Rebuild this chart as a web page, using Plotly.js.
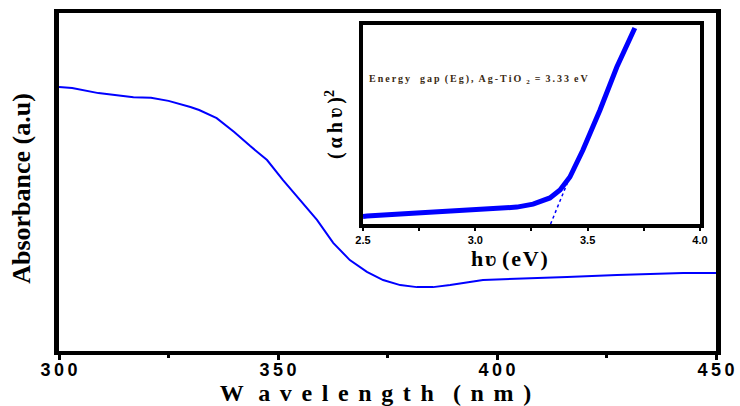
<!DOCTYPE html>
<html>
<head>
<meta charset="utf-8">
<script src="https://cdn.plot.ly/plotly-3.0.1.min.js"></script>
<style>html,body{margin:0;padding:0;background:#fff;}#chart{width:740px;height:406px;}</style>
</head>
<body>
<div id="chart"></div>
<script>
// Main spectrum: wavelength (nm) vs absorbance (a.u.)
const wavelength = [300, 303, 309, 317, 321, 325, 330, 332, 336, 340, 343.6, 347.5, 351.1, 355, 358.9, 362.6, 366.4, 370.3, 374, 377.9, 381.7, 385.4, 389.3, 396.8, 404.6, 416, 427.4, 442.5, 450];
const absorbance = [0.781, 0.778, 0.763, 0.751, 0.749, 0.740, 0.722, 0.713, 0.689, 0.648, 0.607, 0.565, 0.506, 0.447, 0.388, 0.320, 0.269, 0.234, 0.210, 0.195, 0.189, 0.189, 0.195, 0.210, 0.213, 0.219, 0.225, 0.231, 0.231];

// Inset: Tauc plot
const photonEnergy = [2.50, 2.518, 2.74, 2.99, 3.185, 3.257, 3.332, 3.377, 3.421, 3.479, 3.555, 3.63, 3.71];
const taucValue = [0.038, 0.040, 0.055, 0.075, 0.085, 0.100, 0.131, 0.171, 0.236, 0.372, 0.573, 0.789, 0.985];
const tangentX = [3.335, 3.42];
const tangentY = [0.0, 0.235];

const mainTickVals = [300, 350, 400, 450];
const mainTickText = ['3\u20090\u20090', '3\u20095\u20090', '4\u20090\u20090', '4\u20095\u20090'];
const mainMinorVals = [325, 375, 425];
const insetTickVals = [2.5, 3.0, 3.5, 4.0];
const insetTickText = ['2.5', '3.0', '3.5', '4.0'];
const insetMinorVals = [2.75, 3.25, 3.75];

const blue = '#0000ff';
const serif = 'Liberation Serif, Times New Roman, serif';
const sans = 'Liberation Sans, Arial, sans-serif';
const NB = '\u00a0';
const EN = '\u2002';
const ZW = '\u200b';

function spaced(s, sep) { return s.split('').join(sep); }

const traces = [
  {x: wavelength, y: absorbance, type: 'scatter', mode: 'lines', line: {color: blue, width: 2}, xaxis: 'x', yaxis: 'y', hoverinfo: 'skip'},
  {x: photonEnergy, y: taucValue, type: 'scatter', mode: 'lines', line: {color: blue, width: 5}, xaxis: 'x2', yaxis: 'y2', hoverinfo: 'skip'},
  {x: tangentX, y: tangentY, type: 'scatter', mode: 'lines', line: {color: blue, width: 1.5, dash: 'dot'}, xaxis: 'x2', yaxis: 'y2', hoverinfo: 'skip'}
];

const layout = {
  width: 740, height: 406,
  margin: {l: 59, r: 24, t: 13, b: 55},
  paper_bgcolor: '#fff', plot_bgcolor: '#fff',
  showlegend: false,
  xaxis: {
    domain: [0, 1], range: [300, 450], anchor: 'y',
    tickmode: 'array', tickvals: mainTickVals, ticktext: mainTickText,
    ticks: 'outside', ticklen: 5, tickwidth: 3, tickcolor: '#000',
    minor: {tickmode: 'array', tickvals: mainMinorVals, ticks: 'outside', ticklen: 3, tickwidth: 3, tickcolor: '#000'},
    showline: true, linewidth: 4, linecolor: '#000', mirror: true,
    showgrid: false, zeroline: false,
    ticklabelstandoff: -6,
    tickfont: {family: sans, size: 18, color: '#000', weight: 'bold'},
    title: {text: 'W\u2009\u2009\u2009' + spaced('avelength', '\u2009\u2009') + '\u2009\u2009\u2009\u2009' + spaced('(nm)', '\u2009\u2009') + '\u2003' + ZW, font: {family: serif, size: 24, color: '#000', weight: 'bold'}, standoff: 4}
  },
  yaxis: {
    domain: [0, 1], range: [0, 1], anchor: 'x',
    showticklabels: false, ticks: '',
    showline: true, linewidth: 5, linecolor: '#000', mirror: true,
    showgrid: false, zeroline: false,
    title: {text: 'Absorbance (a.u)' + NB + NB + ZW, font: {family: serif, size: 26, color: '#000', weight: 'bold'}, standoff: 17}
  },
  xaxis2: {
    domain: [0.4627, 0.9756], range: [2.5, 4.0], anchor: 'y2',
    tickmode: 'array', tickvals: insetTickVals, ticktext: insetTickText,
    ticks: 'outside', ticklen: 3, tickwidth: 2, tickcolor: '#000',
    minor: {tickmode: 'array', tickvals: insetMinorVals, ticks: 'outside', ticklen: 3, tickwidth: 2, tickcolor: '#000'},
    showline: true, linewidth: 4, linecolor: '#000', mirror: true,
    showgrid: false, zeroline: false,
    tickfont: {family: sans, size: 11, color: '#000', weight: 'bold'},
    title: {text: spaced('h\u028b', '\u200a') + NB + spaced('(eV)', '\u200a') + '\u2003\u2003' + ZW, font: {family: serif, size: 22, color: '#000', weight: 'bold'}, standoff: 0}
  },
  yaxis2: {
    domain: [0.3757, 0.9645], range: [0, 1], anchor: 'x2',
    showticklabels: false, ticks: '',
    showline: true, linewidth: 4, linecolor: '#000', mirror: true,
    showgrid: false, zeroline: false,
    title: {text: spaced('(\u03b1h\u028b)', '\u2009') + '<sup>2</sup>', font: {family: serif, size: 20, color: '#000', weight: 'bold'}, standoff: 12}
  },
  annotations: [
    {xref: 'x2', yref: 'y2', x: 2.52, y: 0.724, xanchor: 'left', yanchor: 'middle', showarrow: false,
     text: spaced('Energy', '\u2009') + EN + EN + spaced('gap', '\u2009') + EN + spaced('(Eg),', '\u2009') + EN + spaced('Ag-TiO', '\u2009') + EN + '<sub>2</sub>' + EN + '=' + EN + spaced('3.33', '\u2009') + EN + spaced('eV', '\u2009'),
     font: {family: serif, size: 10, color: '#3a2a12', weight: 'bold'}}
  ]
};

Plotly.newPlot('chart', traces, layout, {displayModeBar: false, staticPlot: true});
</script>
</body>
</html>
